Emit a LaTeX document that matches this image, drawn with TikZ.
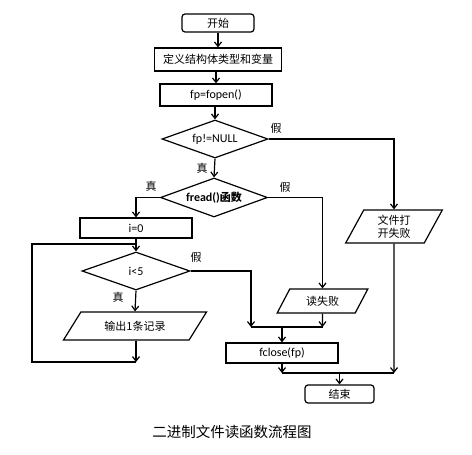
\documentclass[tikz,border=0pt]{standalone}
\usepackage{fontspec}
\setmainfont{Carlito}
\newfontfamily\cjk{Noto Sans CJK SC}
\usetikzlibrary{shapes.geometric,arrows.meta}
\begin{document}
\begin{tikzpicture}[x=1pt,y=-1pt,
  every node/.style={font=\fontsize{12}{13}\selectfont, inner sep=0pt},
  box/.style={draw, rectangle, line width=1.2pt},
  term/.style={draw, rectangle, rounded corners=3pt, line width=1.2pt},
  dec/.style={draw, diamond, aspect=3, line width=1.2pt},
  io/.style={draw, trapezium, trapezium stretches=true, line width=1.2pt},
  cj/.style={font=\cjk\fontsize{11}{13}\selectfont},
  lbl/.style={font=\cjk\fontsize{11}{12}\selectfont},
  conn/.style={line width=1.2pt},
  arr/.style={line width=1.2pt, -{Straight Barb[length=4.5pt,width=7pt]}}]
\useasboundingbox (0,0) rectangle (472,455);
% nodes
\node[term, cj, minimum width=72pt, minimum height=18pt] (start) at (218,23) {开始};
\node[box, cj, minimum width=127pt, minimum height=23pt] (def) at (218,59.5) {定义结构体类型和变量};
\node[box, minimum width=112pt, minimum height=22pt] (fopen) at (216,95) {fp=fopen()};
\node[dec, minimum width=106pt, minimum height=38pt] (d1) at (215,139) {fp!=NULL};
\node[dec, minimum width=107pt, minimum height=39pt] (d2) at (214,197.5) {\bfseries fread(){\cjk\bfseries\fontsize{11}{13}\selectfont 函数}};
\node[box, minimum width=112pt, minimum height=20pt] (i0) at (136,228) {i=0};
\node[dec, minimum width=108pt, minimum height=38pt] (d3) at (136,271) {i<5};
\node[io, cj, trapezium left angle=46, trapezium right angle=134, minimum width=144pt, minimum height=28pt] (out) at (135,326) {输出1条记录};
\node[io, cj, trapezium left angle=58, trapezium right angle=122, minimum width=91pt, minimum height=24pt] (rf) at (322.5,301) {读失败};
\node[io, cj, trapezium left angle=67, trapezium right angle=113, minimum width=97pt, minimum height=33pt, align=center] (ff) at (394,226.5) {文件打\\开失败};
\node[box, minimum width=112pt, minimum height=20pt] (fclose) at (282,353) {fclose(fp)};
\node[term, cj, minimum width=69pt, minimum height=18pt] (end) at (339.5,394) {结束};
\node[font=\cjk\fontsize{14.5}{16}\selectfont] (cap) at (232,432) {二进制文件读函数流程图};
% labels
\node[lbl] (l1) at (276,128) {假};
\node[lbl] (l2) at (202,168) {真};
\node[lbl] (l3) at (151,186) {真};
\node[lbl] (l4) at (285,187) {假};
\node[lbl] (l5) at (196,257) {假};
\node[lbl] (l6) at (118,297) {真};
% coordinates
\coordinate (ja) at (251,327);
\coordinate (jb) at (322.5,327);
\coordinate (jc) at (282,327);
\coordinate (ka) at (282,373);
\coordinate (kb) at (394,373);
\coordinate (kc) at (339.5,373);
\coordinate (la) at (136,362);
\coordinate (lb) at (32,244);
\coordinate (lc) at (136,244);
% connectors
\draw[arr] (start.south) -- (start.south |- def.north);
\draw[arr] (fopen.north |- def.south) -- (fopen.north);
\draw[arr] (fopen.south) -- (fopen.south -| d1.north) -- (d1.north);
\draw[arr] (d1.south) -- (d2.north);
\draw[arr] (d1.east) -| (ff.north);
\draw[arr] (d2.west) -| (i0.north);
\draw[arr] (d2.east) -| (rf.north);
\draw[arr] (i0.south) -- (d3.north);
\draw[arr] (d3.south) -- (out.south |- out.north);
\draw[arr] (d3.east) -| (ja);
\draw[arr] (rf.south) -- (jb);
\draw[conn] (ja) -- (jb);
\draw[arr] (jc) -- (fclose.north);
\draw[arr] (out.south -| la) -- (la);
\draw[conn] (la) -| (lb) -- (lc);
\draw[arr] (fclose.south) -- (ka);
\draw[arr] (ff.south) -- (kb);
\draw[conn] (ka) -- (kb);
\draw[arr] (kc) -- (end.north);
\end{tikzpicture}
\end{document}
